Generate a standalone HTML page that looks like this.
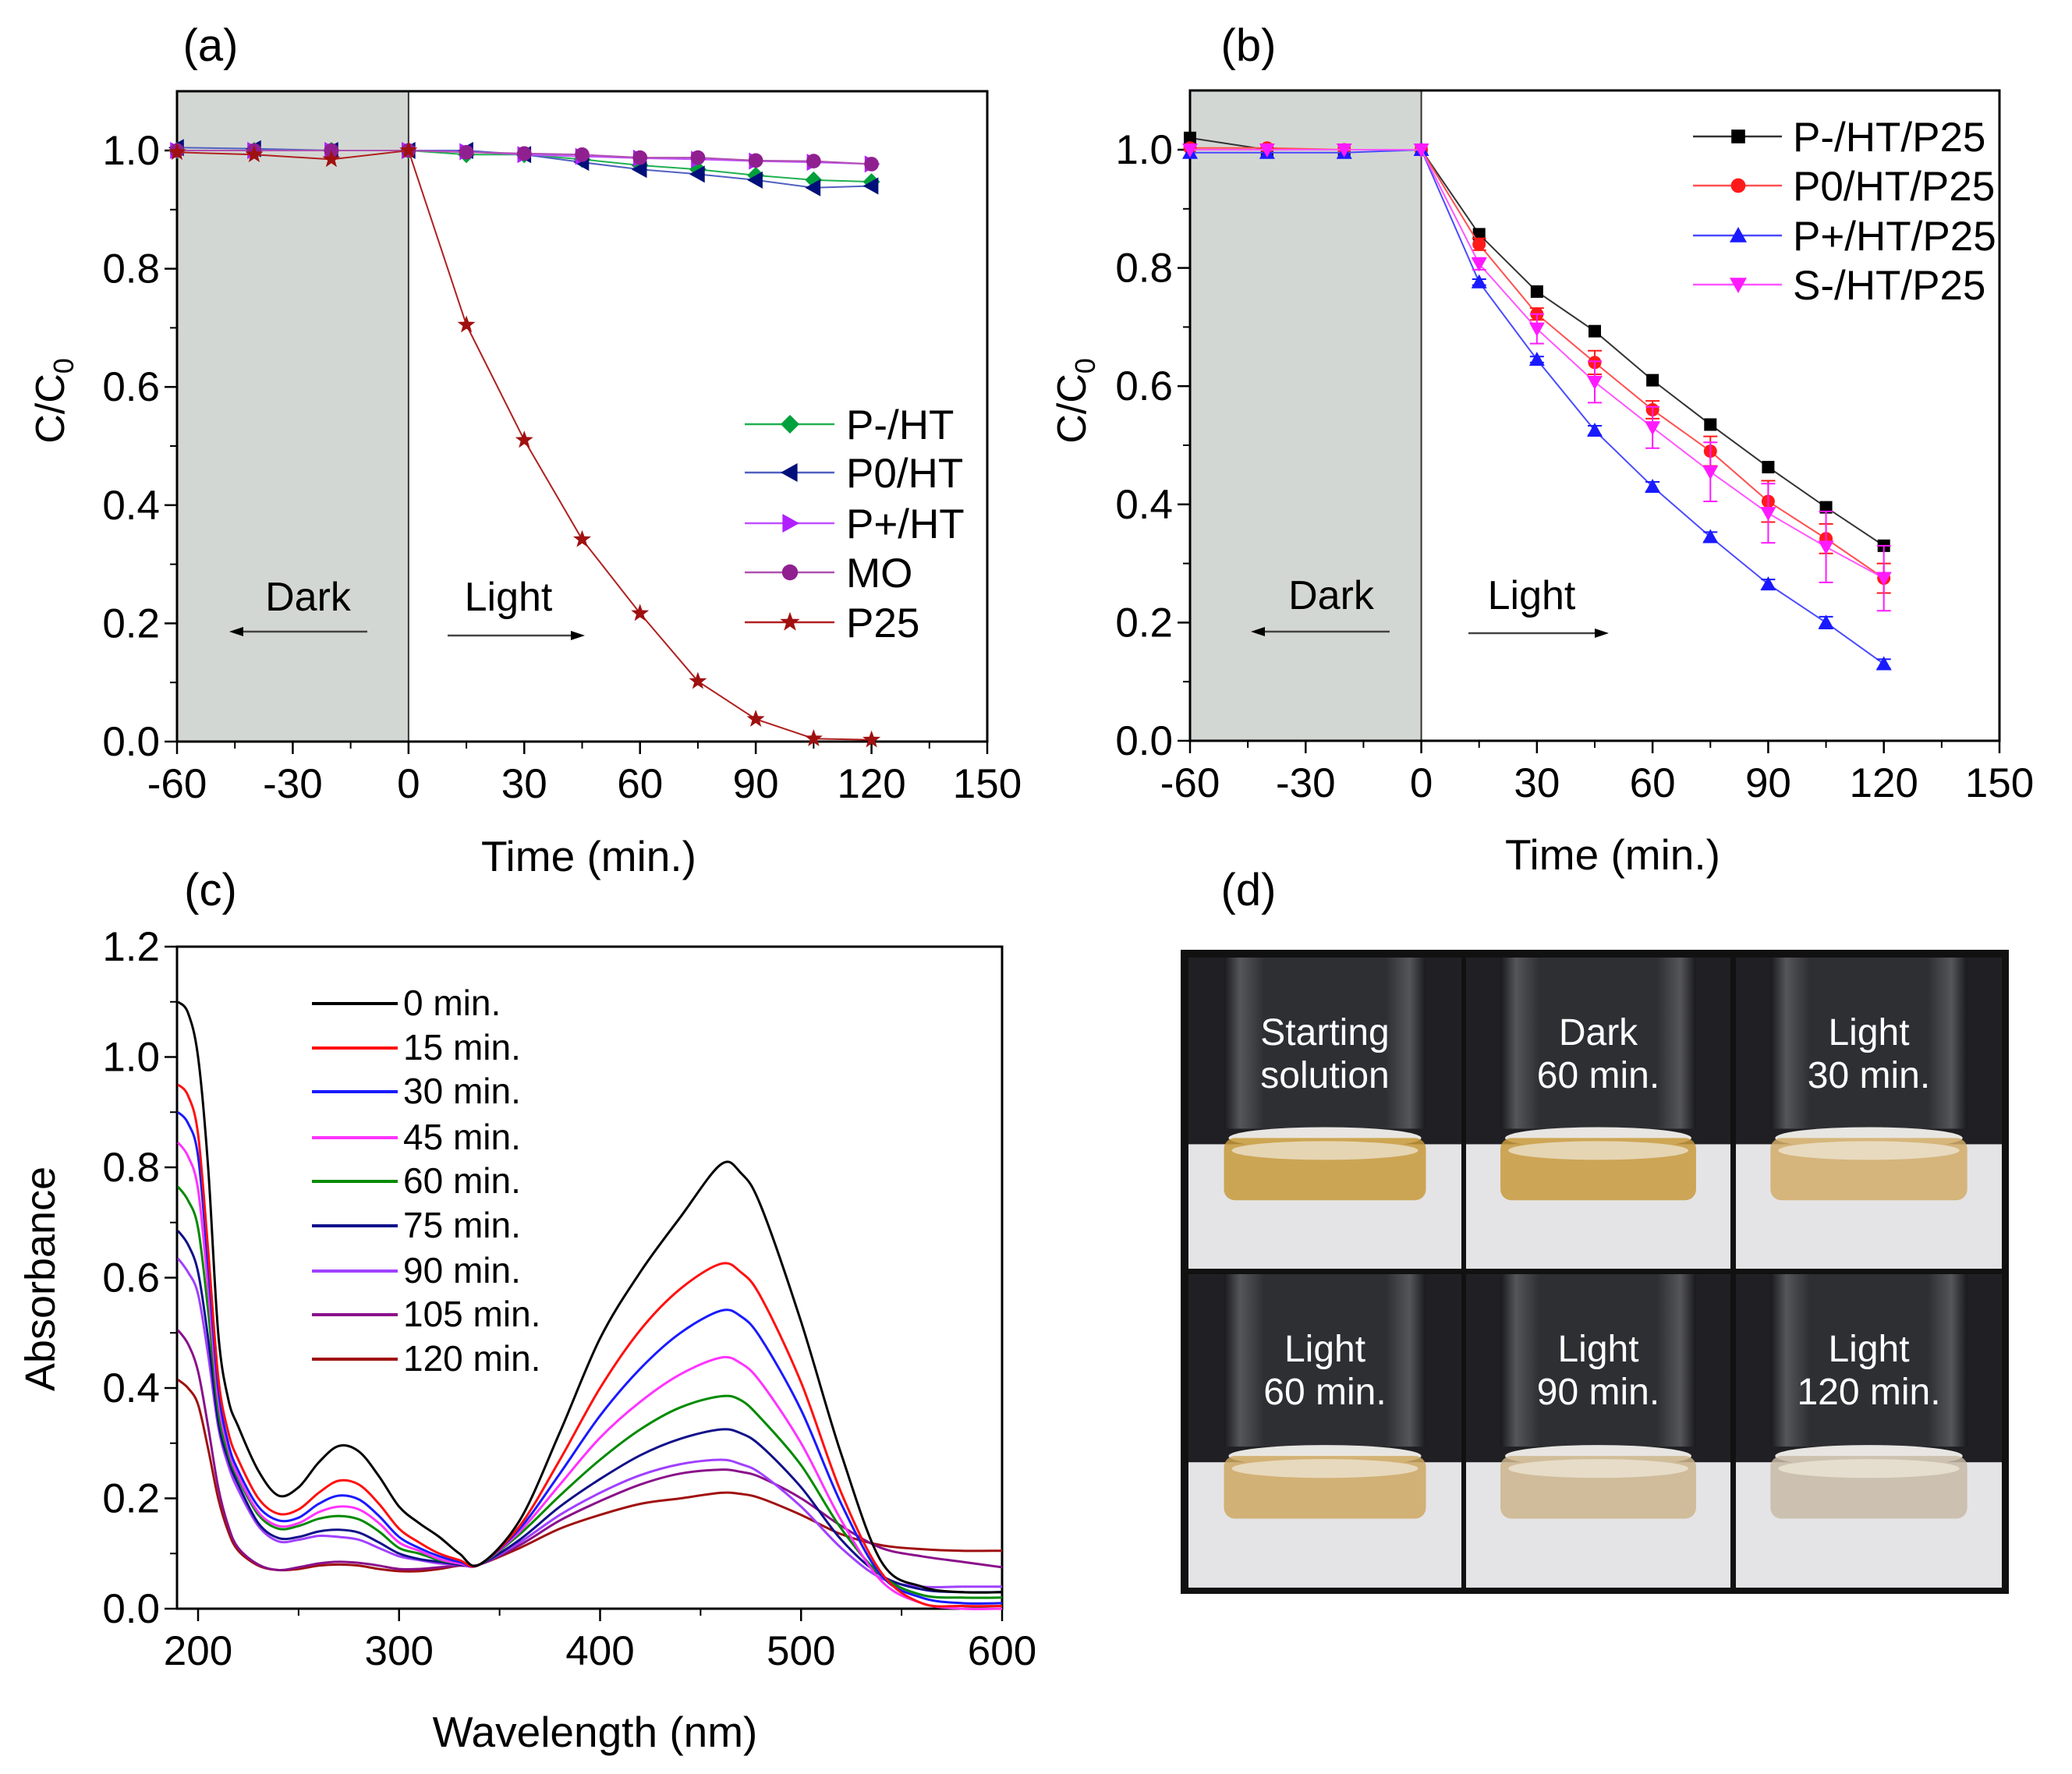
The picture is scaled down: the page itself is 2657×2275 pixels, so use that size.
<!DOCTYPE html>
<html><head><meta charset="utf-8"><style>
html,body{margin:0;padding:0;background:#fff}
svg{display:block;font-family:"Liberation Sans",Arial,sans-serif}
</style></head><body>
<svg id="fig" width="2657" height="2275" viewBox="0 0 2657 2275" xmlns="http://www.w3.org/2000/svg">
<defs>
<linearGradient id="glass" x1="0" y1="0" x2="1" y2="0"><stop offset="0" stop-color="#1a1a1e"/><stop offset="0.08" stop-color="#55565a"/><stop offset="0.2" stop-color="#2e2f33"/><stop offset="0.8" stop-color="#2e2f33"/><stop offset="0.92" stop-color="#55565a"/><stop offset="1" stop-color="#1a1a1e"/></linearGradient>
</defs>
<g id="root"></g>
</svg>
<script>
// ---------- data: panel (a) ----------
const aTimes=[-60,-40,-20,0,15,30,45,60,75,90,105,120];
const aPminus=[1.0,1.0,1.0,1.0,0.993,0.993,0.985,0.975,0.968,0.958,0.95,0.947];
const aP0=[1.005,1.003,1.0,1.0,1.0,0.993,0.98,0.968,0.96,0.95,0.937,0.94];
const aPplus=[1.0,1.0,1.0,1.0,0.998,0.993,0.99,0.987,0.985,0.982,0.98,0.977];
const aMO=[1.0,1.0,1.0,1.0,0.997,0.995,0.993,0.988,0.988,0.983,0.982,0.977];
const aP25=[0.997,0.993,0.985,1.0,0.705,0.51,0.342,0.217,0.102,0.038,0.005,0.003];
const aNames=["P-/HT","P0/HT","P+/HT","MO","P25"];
// ---------- data: panel (b) ----------
const bTimes=[-60,-40,-20,0,15,30,45,60,75,90,105,120];
const bPminus=[1.02,1.0,1.0,1.0,0.857,0.76,0.693,0.61,0.535,0.463,0.395,0.33];
const bP0=[1.003,1.003,1.0,1.0,0.84,0.722,0.64,0.56,0.49,0.405,0.342,0.275];
const bP0err=[0,0,0,0,0.01,0.01,0.02,0.015,0.025,0.035,0.025,0.025];
const bPplus=[0.995,0.995,0.995,1.0,0.776,0.645,0.525,0.43,0.345,0.265,0.2,0.13];
const bPpluserr=[0,0,0,0,0.005,0.005,0.008,0.008,0.008,0.008,0.01,0.008];
const bSminus=[1.0,1.0,1.0,1.0,0.807,0.697,0.607,0.53,0.455,0.385,0.328,0.275];
const bSminuserr=[0,0,0,0,0.01,0.025,0.035,0.035,0.05,0.05,0.06,0.055];
const bNames=["P-/HT/P25","P0/HT/P25","P+/HT/P25","S-/HT/P25"];
// ---------- data: panel (c) ----------
const wl=[190,195,200,205,210,215,220,230,240,250,260,270,280,290,300,310,320,330,340,360,380,400,420,440,460,470,480,500,520,540,560,580,600];
const abs0=[1.10,1.08,1.00,0.80,0.50,0.38,0.33,0.25,0.205,0.22,0.265,0.295,0.285,0.24,0.185,0.155,0.13,0.10,0.08,0.16,0.32,0.49,0.61,0.71,0.805,0.79,0.73,0.52,0.28,0.085,0.04,0.03,0.03];
const abs15=[0.95,0.93,0.86,0.65,0.42,0.32,0.27,0.20,0.172,0.18,0.21,0.232,0.225,0.19,0.145,0.12,0.10,0.088,0.08,0.15,0.27,0.40,0.505,0.58,0.625,0.61,0.565,0.41,0.21,0.065,0.01,0.005,0.005];
const abs30=[0.90,0.88,0.82,0.62,0.40,0.30,0.25,0.185,0.16,0.165,0.19,0.205,0.198,0.168,0.13,0.11,0.095,0.085,0.08,0.145,0.245,0.35,0.435,0.50,0.54,0.53,0.49,0.36,0.19,0.06,0.02,0.01,0.01];
const abs45=[0.845,0.82,0.76,0.58,0.38,0.29,0.24,0.175,0.15,0.155,0.175,0.185,0.18,0.155,0.12,0.105,0.09,0.082,0.08,0.14,0.225,0.31,0.375,0.425,0.455,0.445,0.41,0.30,0.16,0.05,0.01,0.0,0.0];
const abs60=[0.765,0.74,0.69,0.54,0.36,0.28,0.235,0.17,0.145,0.15,0.163,0.168,0.162,0.14,0.11,0.1,0.088,0.082,0.08,0.135,0.205,0.27,0.325,0.365,0.385,0.378,0.345,0.26,0.145,0.06,0.025,0.02,0.02];
const abs75=[0.685,0.66,0.61,0.49,0.34,0.27,0.225,0.155,0.128,0.13,0.14,0.143,0.138,0.12,0.1,0.09,0.085,0.08,0.08,0.125,0.185,0.235,0.278,0.308,0.325,0.318,0.295,0.22,0.125,0.06,0.035,0.03,0.03];
const abs90=[0.635,0.61,0.57,0.46,0.33,0.26,0.215,0.15,0.122,0.125,0.132,0.13,0.125,0.11,0.095,0.088,0.082,0.08,0.08,0.12,0.17,0.21,0.242,0.262,0.27,0.262,0.245,0.185,0.11,0.055,0.04,0.04,0.04];
const abs105=[0.505,0.48,0.43,0.33,0.22,0.15,0.11,0.08,0.07,0.075,0.082,0.085,0.083,0.078,0.072,0.072,0.075,0.078,0.08,0.115,0.16,0.195,0.225,0.245,0.252,0.248,0.238,0.2,0.15,0.11,0.095,0.085,0.075];
const abs120=[0.415,0.40,0.37,0.29,0.2,0.14,0.105,0.078,0.07,0.072,0.078,0.08,0.078,0.072,0.068,0.068,0.072,0.078,0.08,0.11,0.145,0.17,0.19,0.20,0.21,0.208,0.2,0.17,0.135,0.115,0.108,0.105,0.105];
const cNames=["0 min.","15 min.","30 min.","45 min.","60 min.","75 min.","90 min.","105 min.","120 min."];
const timeTicks=[-60,-30,0,30,60,90,120,150];
const ratioTicks=[0.0,0.2,0.4,0.6,0.8,1.0];
const wlTicks=[200,300,400,500,600];
const absTicks=[0.0,0.2,0.4,0.6,0.8,1.0,1.2];
const photoLabels=[["Starting","solution"],["Dark","60 min."],["Light","30 min."],["Light","60 min."],["Light","90 min."],["Light","120 min."]];

const NS="http://www.w3.org/2000/svg";
const root=document.getElementById('root');
function mk(tag,attrs,parent){const e=document.createElementNS(NS,tag);for(const k in attrs)e.setAttribute(k,attrs[k]);(parent||root).appendChild(e);return e;}
function txt(s,attrs,parent){const e=mk('text',attrs,parent);e.textContent=s;return e;}
function lin(d0,d1,r0,r1){return v=>r0+(v-d0)*(r1-r0)/(d1-d0);}

function marker(g,type,x,y,color,r){
  let e;
  if(type==='diamond'){e=mk('polygon',{points:`${x},${y-r} ${x+r},${y} ${x},${y+r} ${x-r},${y}`,fill:color},g);}
  else if(type==='left'){e=mk('polygon',{points:`${x-r},${y} ${x+r*0.8},${y-r} ${x+r*0.8},${y+r}`,fill:color},g);}
  else if(type==='right'){e=mk('polygon',{points:`${x+r},${y} ${x-r*0.8},${y-r} ${x-r*0.8},${y+r}`,fill:color},g);}
  else if(type==='circle'){e=mk('circle',{cx:x,cy:y,r:r*0.85,fill:color},g);}
  else if(type==='square'){e=mk('rect',{x:x-r*0.8,y:y-r*0.8,width:r*1.6,height:r*1.6,fill:color},g);}
  else if(type==='up'){e=mk('polygon',{points:`${x},${y-r} ${x+r},${y+r*0.8} ${x-r},${y+r*0.8}`,fill:color},g);}
  else if(type==='down'){e=mk('polygon',{points:`${x},${y+r} ${x+r},${y-r*0.8} ${x-r},${y-r*0.8}`,fill:color},g);}
  else {let p=[];for(let i=0;i<10;i++){const a=-Math.PI/2+i*Math.PI/5;const rr=i%2?r*0.45:r*1.1;p.push((x+rr*Math.cos(a)).toFixed(1)+','+(y+rr*Math.sin(a)).toFixed(1));}e=mk('polygon',{points:p.join(' '),fill:color},g);}
  return e;
}

function axes(id,L,R,T,B,X,Y,xt,yt,xminor,yminor,fmtY){
  const g=mk('g',{});
  
  
  const xa=mk('g',{},g);
  
  
  xt.forEach(v=>{mk('line',{x1:X(v),x2:X(v),y1:B,y2:B+16,stroke:'#000','stroke-width':2.5},xa);
    const t=txt(String(v),{x:X(v),y:B+72,'text-anchor':'middle','font-size':53,fill:'#000'},xa);
    
    });
  xminor.forEach(v=>mk('line',{x1:X(v),x2:X(v),y1:B,y2:B+9,stroke:'#000','stroke-width':2},xa));
  const ya=mk('g',{},g);
  
  
  yt.forEach(v=>{mk('line',{x1:L-16,x2:L,y1:Y(v),y2:Y(v),stroke:'#000','stroke-width':2.5},ya);
    const t=txt(fmtY(v),{x:L-22,y:Y(v)+18,'text-anchor':'end','font-size':53,fill:'#000'},ya);
    
    });
  yminor.forEach(v=>mk('line',{x1:L-9,x2:L,y1:Y(v),y2:Y(v),stroke:'#000','stroke-width':2},ya));
  const fr=mk('rect',{x:L,y:T,width:R-L,height:B-T,fill:'none',stroke:'#000','stroke-width':3},g);
  
  
  return g;
}

function darkLight(id,X,Y,T,B,dark,light){
  const sh=mk('rect',{x:X(-60),y:T,width:X(0)-X(-60),height:B-T,fill:'#d3d7d3'});
  
  
  mk('line',{x1:X(0),x2:X(0),y1:T,y2:B,stroke:'#333','stroke-width':2});
  const d=txt('Dark',{x:dark.x,y:dark.y,'text-anchor':'middle','font-size':52,fill:'#000'});
  
  
  const l=txt('Light',{x:light.x,y:light.y,'text-anchor':'middle','font-size':52,fill:'#000'});
  
  
  const a1=mk('g',{});
  
  
  mk('line',{x1:dark.a0,x2:dark.a1+14,y1:dark.ay,y2:dark.ay,stroke:'#444','stroke-width':2.5},a1);
  mk('polygon',{points:`${dark.a1},${dark.ay} ${dark.a1+18},${dark.ay-6} ${dark.a1+18},${dark.ay+6}`,fill:'#000'},a1);
  const a2=mk('g',{});
  
  
  mk('line',{x1:light.a0,x2:light.a1-14,y1:light.ay,y2:light.ay,stroke:'#444','stroke-width':2.5},a2);
  mk('polygon',{points:`${light.a1},${light.ay} ${light.a1-18},${light.ay-6} ${light.a1-18},${light.ay+6}`,fill:'#000'},a2);
}

function ylabelC(x,y,id){
  const t=mk('text',{x:0,y:0,'font-size':52,fill:'#000',transform:`translate(${x},${y}) rotate(-90)`,'text-anchor':'middle'});
  
  
  t.innerHTML='C/C<tspan dy="12" font-size="36">0</tspan>';
}
function label(s,x,y,size,name,anchor){const t=txt(s,{x:x,y:y,'font-size':size,fill:'#000','text-anchor':anchor||'middle'});
  
  return t;}
const fmt1=v=>v.toFixed(1);

// ===== Panel (a) =====
(function(){
  const L=227,R=1266,T=117,B=951;
  const X=lin(-60,150,L,R), Y=lin(0,1.0,B,193);
  darkLight('panel-a',X,Y,T,B,{x:395,y:783,a0:471,a1:294,ay:810},{x:652,y:783,a0:574,a1:750,ay:815});
  axes('panel-a',L,R,T,B,X,Y,timeTicks,ratioTicks,[-45,-15,15,45,75,105,135],[0.1,0.3,0.5,0.7,0.9],fmt1);
  const series=[aPminus,aP0,aPplus,aMO,aP25];
  const colors=['#00a03c','#00107a','#b020ff','#902090','#a01010'];
  const lcolors=['#20b050','#5060c0','#c050ff','#b050b0','#b02020'];
  const types=['diamond','left','right','circle','star'];
  series.forEach((s,i)=>{
    const g=mk('g',{});
    
    
    mk('polyline',{points:aTimes.map((t,j)=>X(t)+','+Y(s[j])).join(' '),fill:'none',stroke:lcolors[i],'stroke-width':2},g);
    aTimes.forEach((t,j)=>{const m=marker(g,types[i],X(t),Y(s[j]),colors[i],11);
      
      });
  });
  const lg=mk('g',{});
  
  
  const rows=[544,606,671,734,798];
  aNames.forEach((n,i)=>{
    const e=mk('g',{},lg);
    
    
    mk('line',{x1:955,x2:1070,y1:rows[i],y2:rows[i],stroke:lcolors[i],'stroke-width':2.5},e);
    marker(e,types[i],1013,rows[i],colors[i],12);
    txt(n,{x:1085,y:rows[i]+19,'font-size':53,fill:'#000'},e);
  });
  ylabelC(82,514,'panel-a-y-axis-title');
  label('Time (min.)',755,1117,55,'panel-a-x-axis-title');
  label('(a)',270,78,58,'panel-a-label');
})();

// ===== Panel (b) =====
(function(){
  const L=1526,R=2564,T=116,B=950;
  const X=lin(-60,150,L,R), Y=lin(0,1.0,B,192);
  darkLight('panel-b',X,Y,T,B,{x:1707,y:781,a0:1782,a1:1604,ay:810},{x:1964,y:781,a0:1883,a1:2063,ay:812});
  axes('panel-b',L,R,T,B,X,Y,timeTicks,ratioTicks,[-45,-15,15,45,75,105,135],[0.1,0.3,0.5,0.7,0.9],fmt1);
  const series=[bPminus,bP0,bPplus,bSminus];
  const errs=[null,bP0err,bPpluserr,bSminuserr];
  const colors=['#000','#ff1a1a','#1a1aff','#ff1aff'];
  const lcolors=['#333','#ff5050','#4a4aff','#ff55ff'];
  const types=['square','circle','up','down'];
  series.forEach((s,i)=>{
    const g=mk('g',{});
    
    
    mk('polyline',{points:bTimes.map((t,j)=>X(t)+','+Y(s[j])).join(' '),fill:'none',stroke:lcolors[i],'stroke-width':2},g);
    if(errs[i]) bTimes.forEach((t,j)=>{const e=errs[i][j];if(e>0){const x=X(t);
      mk('line',{x1:x,x2:x,y1:Y(s[j]-e),y2:Y(s[j]+e),stroke:colors[i],'stroke-width':2},g);
      mk('line',{x1:x-9,x2:x+9,y1:Y(s[j]-e),y2:Y(s[j]-e),stroke:colors[i],'stroke-width':2},g);
      mk('line',{x1:x-9,x2:x+9,y1:Y(s[j]+e),y2:Y(s[j]+e),stroke:colors[i],'stroke-width':2},g);}});
    bTimes.forEach((t,j)=>{const m=marker(g,types[i],X(t),Y(s[j]),colors[i],10);
      
      });
  });
  const lg=mk('g',{});
  
  
  const rows=[175,238,302,365];
  bNames.forEach((n,i)=>{
    const e=mk('g',{},lg);
    
    
    mk('line',{x1:2171,x2:2285,y1:rows[i],y2:rows[i],stroke:lcolors[i],'stroke-width':2.5},e);
    marker(e,types[i],2229,rows[i],colors[i],11);
    txt(n,{x:2299,y:rows[i]+19,'font-size':53,fill:'#000'},e);
  });
  ylabelC(1392,514,'panel-b-y-axis-title');
  label('Time (min.)',2068,1115,55,'panel-b-x-axis-title');
  label('(b)',1601,78,58,'panel-b-label');
})();

// ===== Panel (c) =====
(function(){
  const L=227,R=1285,T=1214,B=2063;
  const X=lin(200,600,254,1285), Y=lin(0,1.2,B,T);
  axes('panel-c',L,R,T,B,X,Y,wlTicks,absTicks,[250,350,450,550],[0.1,0.3,0.5,0.7,0.9,1.1],fmt1);
  const series=[abs0,abs15,abs30,abs45,abs60,abs75,abs90,abs105,abs120];
  const colors=['#000','#ff1010','#1a1aff','#ff33ff','#008a00','#10108a','#a040ff','#8a108a','#a01010'];
  function smooth(pts){let d='M'+pts[0][0]+','+pts[0][1];
    for(let i=0;i<pts.length-1;i++){const p0=pts[Math.max(0,i-1)],p1=pts[i],p2=pts[i+1],p3=pts[Math.min(pts.length-1,i+2)];
      const c1=[p1[0]+(p2[0]-p0[0])/6,p1[1]+(p2[1]-p0[1])/6],c2=[p2[0]-(p3[0]-p1[0])/6,p2[1]-(p3[1]-p1[1])/6];
      d+=` C${c1[0].toFixed(1)},${c1[1].toFixed(1)} ${c2[0].toFixed(1)},${c2[1].toFixed(1)} ${p2[0].toFixed(1)},${p2[1].toFixed(1)}`;}
    return d;}
  for(let i=series.length-1;i>=0;i--){
    const p=mk('path',{d:smooth(wl.map((w,j)=>[X(w),Y(series[i][j])])),fill:'none',stroke:colors[i],'stroke-width':3});
    
    
  }
  const lg=mk('g',{});
  
  
  const rows=[1287,1344,1400,1459,1515,1572,1630,1686,1743];
  cNames.forEach((n,i)=>{
    const e=mk('g',{},lg);
    
    
    mk('line',{x1:400,x2:510,y1:rows[i],y2:rows[i],stroke:colors[i],'stroke-width':4},e);
    txt(n,{x:517,y:rows[i]+15,'font-size':46,fill:'#000'},e);
  });
  const t=mk('text',{x:0,y:0,'font-size':54,fill:'#000',transform:'translate(70,1640) rotate(-90)','text-anchor':'middle'});
  
  
  t.textContent='Absorbance';
  label('Wavelength (nm)',763,2240,55,'panel-c-x-axis-title');
  label('(c)',270,1161,58,'panel-c-label');
})();

// ===== Panel (d) =====
(function(){
  label('(d)',1601,1161,58,'panel-d-label');
  const g=mk('g',{});
  
  
  mk('rect',{x:1514,y:1218,width:1062,height:826,fill:'#111'},g);
  const cols=[[1524,1874],[1880,2219],[2226,2567]], rws=[[1228,1627],[1634,2036]];
  const liquid=['#c89a3a','#c99a3c','#d2ad68','#cfa862','#cdb58c','#c8bba6'];
  let k=0;
  rws.forEach(r=>cols.forEach(c=>{
    const cg=mk('g',{},g);
    
    
    const w=c[1]-c[0],h=r[1]-r[0];
    mk('rect',{x:c[0],y:r[0],width:w,height:h,fill:'#202024'},cg);
    const surf=r[0]+h*0.6;
    mk('rect',{x:c[0],y:surf,width:w,height:r[1]-surf,fill:'#e4e4e6'},cg);
    const vx=c[0]+w*0.13,vw=w*0.74;
    mk('rect',{x:vx,y:r[0],width:vw,height:h*0.55,fill:'url(#glass)'},cg);
    mk('ellipse',{cx:vx+vw/2,cy:surf-h*0.02,rx:vw/2-6,ry:h*0.035,fill:'#e8e6e2'},cg);
    mk('rect',{x:vx,y:surf-h*0.02,width:vw,height:h*0.2,fill:liquid[k],opacity:0.85,rx:14},cg);
    mk('ellipse',{cx:vx+vw/2,cy:surf+h*0.02,rx:vw/2-10,ry:h*0.03,fill:'#efe9dc',opacity:0.7},cg);
    const cx=(c[0]+c[1])/2;
    const L=photoLabels[k];
    const t1=txt(L[0],{x:cx,y:r[0]+112,'text-anchor':'middle','font-size':48,fill:'#fff'},cg);
    
    
    txt(L[1],{x:cx,y:r[0]+167,'text-anchor':'middle','font-size':48,fill:'#fff'},cg);
    k++;
  }));
})();
</script>
</body></html>
